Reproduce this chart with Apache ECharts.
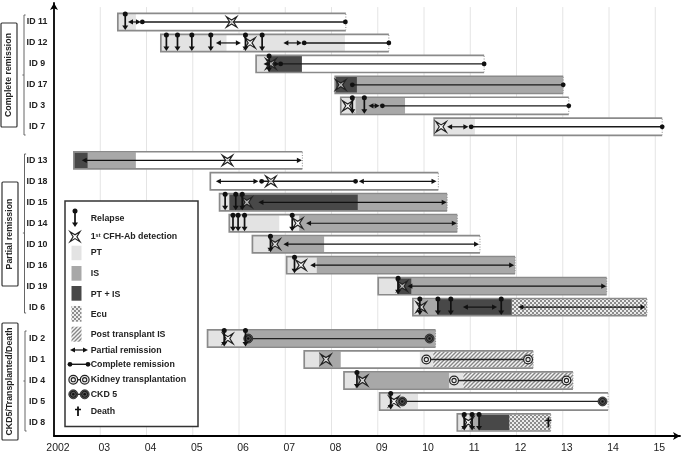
<!DOCTYPE html>
<html><head><meta charset="utf-8">
<script src="https://cdn.jsdelivr.net/npm/echarts@6/dist/echarts.min.js"></script>
<style>html,body{margin:0;padding:0;background:#fff}#c{width:684px;height:454px}</style>
</head><body><div id="c"></div>
<script>
// ---- data (years) ----
const completeIds = ['ID 11','ID 12','ID 9','ID 17','ID 3','ID 7'];
const partialIds  = ['ID 13','ID 18','ID 15','ID 14','ID 10','ID 16','ID 19','ID 6'];
const ckdIds      = ['ID 2','ID 1','ID 4','ID 5','ID 8'];
const tickYears   = [2002,2003,2004,2005,2006,2007,2008,2009,2010,2011,2012,2013,2014,2015];
const tickLabels  = ['2002','03','04','05','06','07','08','09','10','11','12','13','14','15'];

const followUp = [['ID 11',2003.38,2008.31],['ID 12',2004.31,2009.24],['ID 9',2006.37,2011.30],['ID 17',2008.08,2013.01],
 ['ID 3',2008.20,2013.13],['ID 7',2010.22,2015.15],['ID 13',2002.43,2007.37],['ID 18',2005.38,2010.31],['ID 15',2005.58,2010.50],
 ['ID 14',2005.79,2010.72],['ID 10',2006.29,2011.21],['ID 16',2007.03,2011.97],['ID 19',2009.01,2013.95],['ID 6',2009.76,2014.82],
 ['ID 2',2005.32,2010.25],['ID 1',2007.41,2012.36],['ID 4',2008.27,2013.22],['ID 5',2009.04,2013.98],['ID 8',2010.72,2012.74]];
const ptSegs = [['ID 11',2003.38,2003.77],['ID 12',2004.31,2005.73],['ID 12',2006.12,2008.29],['ID 9',2006.37,2006.64],['ID 3',2008.20,2008.52],
 ['ID 7',2010.22,2011.10],['ID 15',2005.58,2005.79],['ID 14',2005.79,2006.87],['ID 14',2007.16,2007.30],['ID 10',2006.29,2006.68],['ID 16',2007.03,2007.68],
 ['ID 19',2009.01,2009.42],['ID 6',2009.76,2009.88],['ID 2',2005.32,2006.13],['ID 1',2007.41,2007.73],['ID 1',2009.91,2010.20],['ID 4',2008.27,2008.56],
 ['ID 4',2010.54,2010.85],['ID 5',2009.04,2009.87],['ID 8',2010.72,2010.98]];
const isSegs = [['ID 17',2008.55,2013.01],['ID 3',2008.52,2009.59],['ID 13',2002.73,2003.77],['ID 15',2008.57,2010.50],['ID 14',2007.30,2010.72],
 ['ID 10',2006.68,2007.84],['ID 16',2007.68,2011.97],['ID 19',2009.73,2013.95],['ID 6',2009.88,2010.30],['ID 2',2006.13,2010.25],['ID 1',2007.73,2008.20],
 ['ID 4',2008.56,2010.54],['ID 8',2010.98,2011.19]];
const ptIsSegs = [['ID 9',2006.64,2007.36],['ID 17',2008.08,2008.55],['ID 13',2002.43,2002.73],['ID 15',2005.79,2008.57],['ID 19',2009.42,2009.73],
 ['ID 6',2010.30,2011.90],['ID 8',2011.19,2011.85]];
const ecuSegs = [['ID 6',2011.90,2014.82],['ID 8',2011.85,2012.74]];
const postTxSegs = [['ID 1',2010.20,2012.36],['ID 4',2010.85,2013.22]];
const relapses = [['ID 11',2003.54],['ID 12',2004.43],['ID 12',2004.67],['ID 12',2004.98],['ID 12',2005.39],['ID 12',2006.14],['ID 12',2006.50],
 ['ID 9',2006.65],['ID 3',2008.45],['ID 3',2008.71],['ID 15',2005.70],['ID 15',2005.93],['ID 15',2006.07],['ID 14',2005.87],['ID 14',2005.98],['ID 14',2006.12],['ID 14',2007.15],
 ['ID 10',2006.68],['ID 16',2007.20],['ID 19',2009.44],['ID 6',2009.91],['ID 6',2010.30],['ID 6',2010.58],['ID 6',2011.67],['ID 2',2005.68],['ID 2',2006.14],
 ['ID 4',2008.55],['ID 5',2009.28],['ID 8',2010.87],['ID 8',2011.04],['ID 8',2011.19]];
const cfhDetection = [['ID 11',2005.84],['ID 12',2006.24],['ID 9',2006.69],['ID 17',2008.20],['ID 3',2008.35],['ID 7',2010.37],['ID 13',2005.75],['ID 18',2006.69],
 ['ID 15',2006.17],['ID 14',2007.27],['ID 10',2006.78],['ID 16',2007.34],['ID 19',2009.53],['ID 6',2009.94],['ID 2',2005.76],['ID 1',2007.88],['ID 4',2008.67],['ID 5',2009.35],['ID 8',2010.96]];
const partialRem = [['ID 11',2003.60,2003.88],['ID 12',2005.50,2006.04],['ID 12',2006.96,2007.36],['ID 9',2006.53,2006.87],['ID 3',2008.80,2009.04],['ID 7',2010.50,2010.96],
 ['ID 13',2002.60,2007.36],['ID 18',2005.50,2006.42],['ID 18',2008.59,2010.27],['ID 15',2006.42,2010.49],['ID 14',2007.45,2010.71],['ID 10',2006.96,2011.19],['ID 16',2007.54,2011.95],
 ['ID 19',2009.64,2013.94],['ID 6',2010.84,2011.58],['ID 6',2012.04,2014.79]];
const completeRem = [['ID 11',2003.91,2008.30],['ID 12',2007.41,2009.24],['ID 9',2006.90,2011.30],['ID 17',2008.45,2013.01],['ID 3',2009.10,2013.13],['ID 7',2011.02,2015.15],['ID 18',2006.49,2008.52]];
const kidneyTx = [['ID 1',2010.05,2012.25],['ID 4',2010.65,2013.08]];
const ckd5 = [['ID 2',2006.20,2010.12],['ID 5',2009.53,2013.86]];
const deaths = [['ID 8',2012.69]];
const gridYears = tickYears.slice(1);

// ---- row slots on the value axis ----
const rowOf = {};
completeIds.forEach((id,i)=>rowOf[id]=i);
partialIds.forEach((id,i)=>rowOf[id]=i+6.6);
ckdIds.forEach((id,i)=>rowOf[id]=i+15.1);

// ---- colours and patterns ----
const INK='#111', FRAME='#8a8a8a', PT='#e3e3e3', IS='#a8a8a8', PTIS='#484848';
function checker(){const c=document.createElement('canvas');c.width=c.height=4;const g=c.getContext('2d');
 g.fillStyle='#ececec';g.fillRect(0,0,4,4);g.fillStyle='#8c8c8c';g.fillRect(0,0,2,2);g.fillRect(2,2,2,2);return {image:c,repeat:'repeat'};}
function hatch(){const c=document.createElement('canvas');c.width=c.height=4;const g=c.getContext('2d');
 g.fillStyle='#f4f4f4';g.fillRect(0,0,4,4);g.strokeStyle='#858585';g.lineWidth=1.3;
 [[-1,1,1,-1],[-1,5,5,-1],[3,5,5,3]].forEach(l=>{g.beginPath();g.moveTo(l[0],l[1]);g.lineTo(l[2],l[3]);g.stroke();});return {image:c,repeat:'repeat'};}
const ECU=checker(), POST=hatch();

// ---- glyph helpers (pixel offsets around a scaled point) ----
const line=(x1,y1,x2,y2,stroke,lineWidth,extra)=>({type:'line',shape:{x1,y1,x2,y2},style:Object.assign({stroke,lineWidth},extra||{})});
const dot=(cx,cy,r,style)=>({type:'circle',shape:{cx,cy,r},style});
const tri=(points,fill)=>({type:'polygon',shape:{points},style:{fill}});
const relapseG=(x,y,t=-8,b=8)=>[line(x,y+t,x,y+b-3,INK,1.7),dot(x,y+t,2.5,{fill:INK}),tri([[x-3,y+b-4.5],[x+3,y+b-4.5],[x,y+b]],INK)];
function starG(x,y,R=5.2,r=1.9){const p=[[-R,-R],[0,-r],[R,-R],[r,0],[R,R],[0,r],[-R,R],[-r,0]].map(q=>[x+q[0],y+q[1]]);
 return [{type:'polygon',shape:{points:p},style:{fill:'rgba(255,255,255,0.6)',stroke:'#222',lineWidth:1.2}}];}
const partialG=(a,b,y)=>[line(a+3,y,b-3,y,INK,1.2),tri([[a,y],[a+5,y-2.6],[a+5,y+2.6]],INK),tri([[b,y],[b-5,y-2.6],[b-5,y+2.6]],INK)];
const completeG=(a,b,y)=>[line(a,y,b,y,'#1a1a1a',1.4),dot(a,y,2.4,{fill:INK}),dot(b,y,2.4,{fill:INK})];
const kidneyG=(x,y)=>[dot(x,y,4.4,{fill:'#eeeeee',stroke:'#222',lineWidth:1.2}),dot(x,y,2.1,{fill:'#eeeeee',stroke:'#222',lineWidth:1.1})];
const ckdG=(x,y)=>[dot(x,y,4.5,{fill:'#555',stroke:'#222',lineWidth:0.8}),dot(x,y,3,{fill:'none',stroke:'#111',lineWidth:0.9}),dot(x,y,1.3,{fill:'#111'})];
const linkG=(a,b,y,fn)=>[line(a,y,b,y,'#222',1.3),...fn(a,y),...fn(b,y)];
const deathG=(x,y)=>[line(x,y-5,x,y+5,INK,1.8),line(x-3,y-2,x+3,y-2,INK,1.5)];

// ---- series builders ----
const span=rows=>rows.map(r=>[r[1],r[2],rowOf[r[0]]]);
const point=rows=>rows.map(r=>[r[1],r[1],rowOf[r[0]]]);
function custom(name,data,z,draw){
 return {type:'custom',name,data,z,silent:true,clip:false,encode:{x:[0,1],y:2},
  renderItem:(p,api)=>{const a=api.coord([api.value(0),api.value(2)]),b=api.coord([api.value(1),api.value(2)]);
   return {type:'group',children:draw(a[0],b[0],a[1])};}};
}
const band=(name,rows,fill,z)=>custom(name,span(rows),z,(a,b,y)=>[{type:'rect',shape:{x:a,y:y-8,width:b-a,height:16},style:{fill}}]);

const series=[
 {type:'custom',name:'Year lines',data:gridYears.map(v=>[v,v,-0.71]),z:1,silent:true,encode:{x:[0,1],y:2},
  renderItem:(p,api)=>{const x=api.coord([api.value(0),0])[0];const t=api.coord([2002,api.value(2)])[1];const bottom=api.coord([2002,19.7])[1];
   return line(x,t,x,bottom,'#e4e4e4',1);}},
 custom('Follow-up',span(followUp),2,(a,b,y)=>[{type:'rect',shape:{x:a,y:y-8.5,width:b-a,height:17},style:{fill:'#fff'}}]),
 band('PT',ptSegs,PT,3),band('IS',isSegs,IS,3),band('PT + IS',ptIsSegs,PTIS,3),band('Ecu',ecuSegs,ECU,3),band('Post transplant IS',postTxSegs,POST,3),
 custom('Frame',span(followUp),4,(a,b,y)=>[
  {type:'polyline',shape:{points:[[b,y-8.6],[a,y-8.6],[a,y+8.6],[b,y+8.6]]},style:{stroke:FRAME,lineWidth:1.7,fill:'none'}},
  line(b,y-8,b,y+8,'#888',1,{lineDash:[1,1.6]})]),
 custom('Partial remission',span(partialRem),5,(a,b,y)=>partialG(a,b,y)),
 custom('Complete remission',span(completeRem),5,(a,b,y)=>completeG(a,b,y)),
 custom('Kidney transplantation',span(kidneyTx),6,(a,b,y)=>linkG(a,b,y,kidneyG)),
 custom('CKD 5',span(ckd5),6,(a,b,y)=>linkG(a,b,y,ckdG)),
 custom('1st CFH-Ab detection',point(cfhDetection),7,(a,b,y)=>starG(a,y)),
 custom('Relapse',point(relapses),8,(a,b,y)=>relapseG(a,y)),
 custom('Death',point(deaths),8,(a,b,y)=>deathG(a,y)),
];

// ---- legend and group annotations ----
const FONT='"Liberation Sans",Arial,sans-serif';
const label=(x,y,text,extra)=>({type:'text',x,y,z:101,style:Object.assign({text,x:0,y:0,fill:'#222',font:'bold 8.8px '+FONT,textVerticalAlign:'middle',verticalAlign:'middle'},extra||{})});
const swatch=(y,h,fill)=>({type:'rect',z:101,shape:{x:71.5,y,width:10,height:h},style:{fill}});
const gl=kids=>({type:'group',z:101,children:kids.map(k=>Object.assign(k,{z:101}))});
const legendEls=[
 {type:'rect',z:100,shape:{x:65,y:201,width:133,height:225.6},style:{fill:'#fff',stroke:'#333',lineWidth:1.5}},
 gl(relapseG(75,219,-8,8)),label(90.7,219,'Relapse'),
 gl(starG(75,236.7,5,1.9)),
 {type:'text',x:90.7,y:236.7,z:101,style:{text:'1{s|st} CFH-Ab detection',x:0,y:0,fill:'#222',font:'bold 8.8px '+FONT,verticalAlign:'middle',rich:{s:{font:'bold 5.5px '+FONT,fill:'#222',verticalAlign:'top'}}}},
 swatch(245.7,14.5,PT),label(90.7,252.7,'PT'),
 swatch(266,14.7,IS),label(90.7,274,'IS'),
 swatch(286,14.7,PTIS),label(90.7,295,'PT + IS'),
 swatch(306,15.7,ECU),label(90.7,314.7,'Ecu'),
 swatch(326.7,15,POST),label(90.7,334.7,'Post transplant IS'),
 gl(partialG(70,88,350)),label(90.7,351,'Partial remission'),
 gl(completeG(70,88,364.3)),label(90.7,364.5,'Complete remission'),
 gl(linkG(73.3,84.7,379.7,kidneyG)),label(90.7,379.7,'Kidney transplantation'),
 gl(linkG(73.3,84.7,394.3,ckdG)),label(90.7,394.3,'CKD 5'),
 gl([line(78,406.5,78,416,INK,1.8),line(75,409.5,81,409.5,INK,1.5)]),label(90.7,411.7,'Death'),
];
function groupBox(x,y,w,h,text){return [
 {type:'rect',z:100,shape:{x,y,width:w,height:h,r:1},style:{fill:'#fff',stroke:'#333',lineWidth:1.2}},
 {type:'text',z:101,x:x+w/2,y:y+h/2,rotation:Math.PI/2,style:{text,x:0,y:0,fill:'#222',font:'bold 8.8px '+FONT,align:'center',verticalAlign:'middle'}}];}
function bracket(x,t,b,m){return [
 {type:'polyline',z:100,shape:{points:[[x+1.6,t],[x,t],[x,b],[x+1.6,b]]},style:{stroke:'#666',lineWidth:1,fill:'none'}},
 {type:'line',z:100,shape:{x1:x-1.6,y1:m,x2:x,y2:m},style:{stroke:'#666',lineWidth:1}}];}
const annotations=[
 ...groupBox(1,23,16,104,'Complete remission'),
 ...groupBox(2,182,16,104,'Partial remission'),
 ...groupBox(2,323,16,117,'CKD5/Transplanted/Death'),
 ...bracket(24,15,135,75),...bracket(24.5,154,313,233),...bracket(25,331,431,381),
];

const chart=echarts.init(document.getElementById('c'),null,{renderer:'canvas'});
chart.setOption({
 animation:false,
 backgroundColor:'#fff',
 grid:{left:54,right:4,top:3,bottom:17.3},
 xAxis:{type:'value',min:2002,max:2015.535,interval:1,splitLine:{show:false},
  axisLine:{onZero:false,lineStyle:{color:'#000',width:1.8},symbol:['none','arrow'],symbolSize:[6,7]},
  axisTick:{show:false},
  axisLabel:{customValues:tickYears,formatter:v=>tickLabels[tickYears.indexOf(v)],margin:7,padding:[0,0,0,8],color:'#222',fontFamily:FONT,fontSize:10.5}},
 yAxis:{type:'value',inverse:true,min:-0.905,max:19.748,splitLine:{show:false},
  axisLine:{onZero:false,lineStyle:{color:'#000',width:1.8},symbol:['none','arrow'],symbolSize:[6,7]},
  axisTick:{show:false},
  axisLabel:{customValues:Object.values(rowOf),formatter:v=>Object.keys(rowOf).find(k=>Math.abs(rowOf[k]-v)<1e-6)||'',
   margin:17,align:'center',color:'#222',fontFamily:FONT,fontWeight:'bold',fontSize:8.8}},
 series,
 graphic:{elements:[...annotations,...legendEls]}
});
</script></body></html>
